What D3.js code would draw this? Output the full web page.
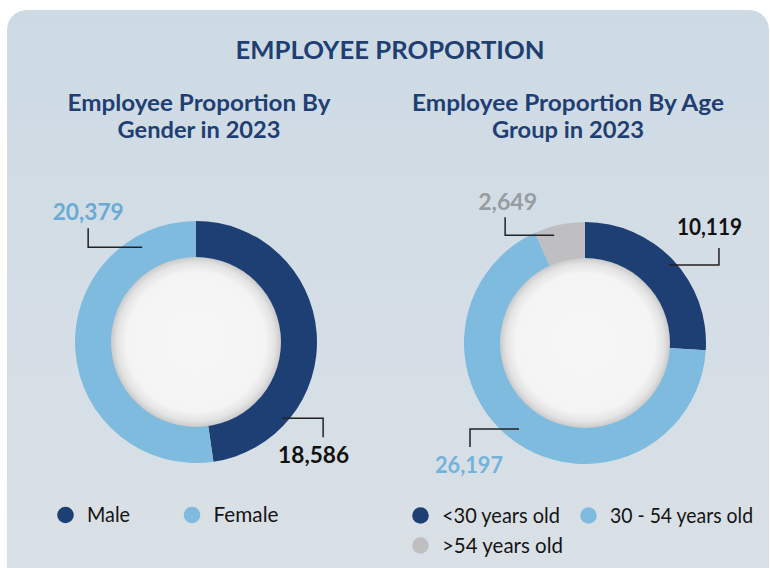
<!DOCTYPE html>
<html><head><meta charset="utf-8">
<script src="https://cdn.jsdelivr.net/npm/d3@7"></script>
<style>html,body{margin:0;padding:0;background:#fff;}svg{display:block;}</style>
</head><body>
<svg id="chart" width="770" height="568"></svg>
<script>
// ---- data ----
const mainTitle = "EMPLOYEE PROPORTION";
const genderTitle = ["Employee Proportion By", "Gender in 2023"];
const ageTitle = ["Employee Proportion By Age", "Group in 2023"];
const genderCategories = ["Male", "Female"];
const genderValues = [18586, 20379];
const ageCategories = ["<30 years old", "30 - 54 years old", ">54 years old"];
const ageValues = [10119, 26197, 2649];

// ---- styles / layout ----
const navy = "#1e3f74", light = "#7fbadf", grey = "#bfbfc1";
const titleColor = "#1f3f73";
const genderColors = [navy, light];
const ageColors = [navy, light, grey];
const genderLabelColors = ["#111111", "#6aaad6"];
const ageLabelColors = ["#111111", "#74b2dc", "#979ca0"];
const font = "Lato, 'Open Sans', sans-serif";
const fmt = d3.format(",");
const rad = Math.PI / 180;

const svg = d3.select("#chart");
const defs = svg.append("defs");

const bg = defs.append("linearGradient").attr("id", "bg").attr("x1", 0).attr("y1", 0).attr("x2", 0).attr("y2", 1);
bg.append("stop").attr("offset", "0").attr("stop-color", "#cddae4");
bg.append("stop").attr("offset", "0.5").attr("stop-color", "#d5dee6");
bg.append("stop").attr("offset", "1").attr("stop-color", "#dae1e6");

const hole = defs.append("radialGradient").attr("id", "hole");
hole.append("stop").attr("offset", "0").attr("stop-color", "#f7f7f7");
hole.append("stop").attr("offset", "0.82").attr("stop-color", "#f4f4f4");
hole.append("stop").attr("offset", "0.93").attr("stop-color", "#e3e3e3");
hole.append("stop").attr("offset", "1").attr("stop-color", "#cacaca");

svg.append("rect").attr("x", 7).attr("y", 10).attr("width", 762).attr("height", 620)
  .attr("rx", 20).attr("fill", "url(#bg)");

// titles
svg.append("text").attr("x", 390).attr("y", 59).attr("text-anchor", "middle")
  .attr("font-family", font).attr("font-weight", 700).attr("font-size", 25)
  .attr("fill", titleColor).attr("textLength", 309).attr("lengthAdjust", "spacingAndGlyphs")
  .text(mainTitle);

function subtitle(lines, cx, widths) {
  lines.forEach((t, i) => {
    svg.append("text").attr("x", cx).attr("y", 111 + i * 27).attr("text-anchor", "middle")
      .attr("font-family", font).attr("font-weight", 700).attr("font-size", 23)
      .attr("fill", titleColor).attr("textLength", widths[i]).attr("lengthAdjust", "spacingAndGlyphs")
      .text(t);
  });
}
subtitle(genderTitle, 199, [263, 163]);
subtitle(ageTitle, 568, [312, 152]);

const R = 121, r = 85;
const pie = d3.pie().sort(null).value(d => d);
const arc = d3.arc().innerRadius(r - 1).outerRadius(R);

// leader layout per slice: anchor angle (deg), anchor radius, horizontal run, vertical run, label dx, label dy, label width
const genderLeaders = [
  {a: 131.5, rr: 115, h: 41, v: 19, ldx: -9.5, ldy: 26, w: 71},
  {a: 330.4, rr: 109, h: -54, v: -19, ldx: 0, ldy: -8, w: 71}
];
const ageLeaders = [
  {a: 47.1, rr: 114.6, h: 50, v: -17, ldx: -9.5, ldy: -13, w: 65},
  {a: 217.5, rr: 108.4, h: -49, v: 18, ldx: -1, ldy: 26, w: 68},
  {a: 344, rr: 112, h: -49, v: -18, ldx: 2.5, ldy: -7, w: 59}
];

function donut(cx, cy, values, colors, leaders, labelColors) {
  const g = svg.append("g").attr("transform", `translate(${cx},${cy})`);
  g.selectAll("path.slice").data(pie(values)).join("path").attr("class", "slice")
    .attr("d", arc).attr("fill", (d, i) => colors[i]);
  g.append("circle").attr("r", r).attr("fill", "url(#hole)");
  values.forEach((v, i) => {
    const L = leaders[i];
    const x0 = L.rr * Math.sin(L.a * rad), y0 = -L.rr * Math.cos(L.a * rad);
    const x1 = x0 + L.h, y1 = y0, y2 = y0 + L.v;
    g.append("path").attr("d", `M${x0},${y0}H${x1}V${y2}`).attr("fill", "none")
      .attr("stroke", "#222").attr("stroke-width", 1.5);
    g.append("text").attr("x", x1 + L.ldx).attr("y", y2 + L.ldy).attr("text-anchor", "middle")
      .attr("font-family", font).attr("font-weight", 700).attr("font-size", 22)
      .attr("fill", labelColors[i]).attr("textLength", L.w).attr("lengthAdjust", "spacingAndGlyphs")
      .text(fmt(v));
  });
}
donut(196, 342, genderValues, genderColors, genderLeaders, genderLabelColors);
donut(585, 343, ageValues, ageColors, ageLeaders, ageLabelColors);

// legends
const genderLegendPos = [[65.5, 515, 43], [192, 515, 65]];
const ageLegendPos = [[420.5, 515.5, 118], [588.5, 515.5, 143], [420.5, 545.5, 121]];
function legend(cats, colors, pos) {
  cats.forEach((c, i) => {
    const [x, y, w] = pos[i];
    svg.append("circle").attr("cx", x).attr("cy", y).attr("r", 8.3).attr("fill", colors[i]);
    svg.append("text").attr("x", x + 21.5).attr("y", y + 7).attr("font-family", font)
      .attr("font-size", 20.5).attr("fill", "#141414")
      .attr("textLength", w).attr("lengthAdjust", "spacingAndGlyphs").text(c);
  });
}
legend(genderCategories, genderColors, genderLegendPos);
legend(ageCategories, ageColors, ageLegendPos);
</script>
</body></html>
